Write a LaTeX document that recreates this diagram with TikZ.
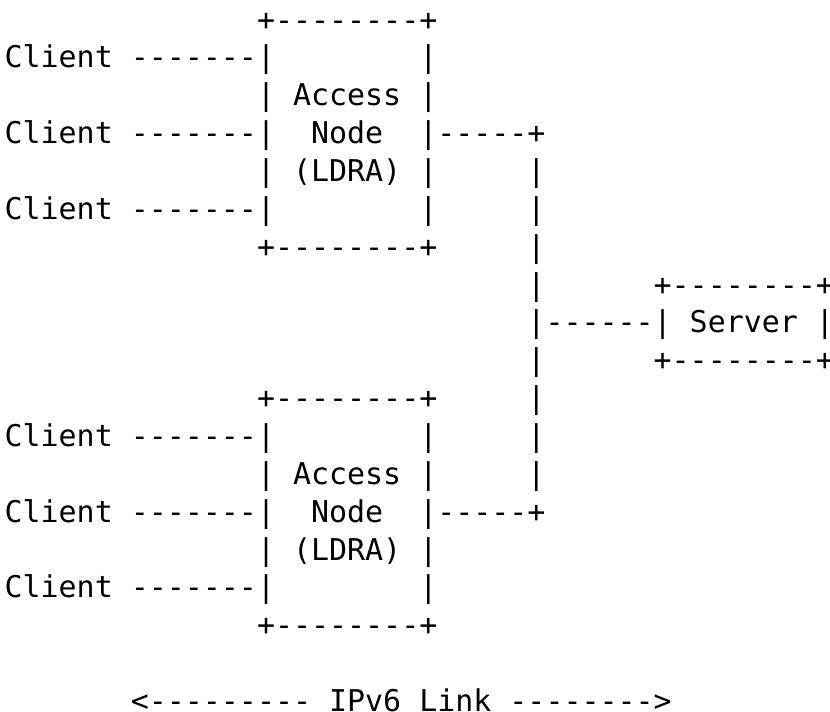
\documentclass[tikz,border=0pt]{standalone}
\usepackage{fontspec}
\setmonofont{DejaVu Sans Mono}
\tikzset{
  txt/.style={anchor=base west, inner sep=0pt, outer sep=0pt,
    font=\ttfamily\fontsize{29.95bp}{36bp}\selectfont, text=black},
  cell/.style n args={2}{at={({4.6+18.03*(#2)},{-30.15-37.85*(#1)})}}
}
\begin{document}
\begin{tikzpicture}[x=1bp,y=1bp]
\clip (0,0) rectangle (830,-712);
\fill[white] (0,0) rectangle (830,-712);
% upper access node
\node[txt, cell={0}{14}] (r0a) {+--------+};
\node[txt, cell={1}{0}] (r1a) {Client};
\node[txt, cell={1}{7}] (r1b) {-------|};
\node[txt, cell={1}{23}] (r1c) {|};
\node[txt, cell={2}{14}] (r2a) {|};
\node[txt, cell={2}{16}] (r2b) {Access};
\node[txt, cell={2}{23}] (r2c) {|};
\node[txt, cell={3}{0}] (r3a) {Client};
\node[txt, cell={3}{7}] (r3b) {-------|};
\node[txt, cell={3}{17}] (r3c) {Node};
\node[txt, cell={3}{23}] (r3d) {|-----+};
\node[txt, cell={4}{14}] (r4a) {|};
\node[txt, cell={4}{16}] (r4b) {(LDRA)};
\node[txt, cell={4}{23}] (r4c) {|};
\node[txt, cell={4}{29}] (r4d) {|};
\node[txt, cell={5}{0}] (r5a) {Client};
\node[txt, cell={5}{7}] (r5b) {-------|};
\node[txt, cell={5}{23}] (r5c) {|};
\node[txt, cell={5}{29}] (r5d) {|};
\node[txt, cell={6}{14}] (r6a) {+--------+};
\node[txt, cell={6}{29}] (r6b) {|};
% server
\node[txt, cell={7}{29}] (r7a) {|};
\node[txt, cell={7}{36}] (r7b) {+--------+};
\node[txt, cell={8}{29}] (r8a) {|------|};
\node[txt, cell={8}{38}] (r8b) {Server};
\node[txt, cell={8}{45}] (r8c) {|};
\node[txt, cell={9}{29}] (r9a) {|};
\node[txt, cell={9}{36}] (r9b) {+--------+};
% lower access node
\node[txt, cell={10}{14}] (r10a) {+--------+};
\node[txt, cell={10}{29}] (r10b) {|};
\node[txt, cell={11}{0}] (r11a) {Client};
\node[txt, cell={11}{7}] (r11b) {-------|};
\node[txt, cell={11}{23}] (r11c) {|};
\node[txt, cell={11}{29}] (r11d) {|};
\node[txt, cell={12}{14}] (r12a) {|};
\node[txt, cell={12}{16}] (r12b) {Access};
\node[txt, cell={12}{23}] (r12c) {|};
\node[txt, cell={12}{29}] (r12d) {|};
\node[txt, cell={13}{0}] (r13a) {Client};
\node[txt, cell={13}{7}] (r13b) {-------|};
\node[txt, cell={13}{17}] (r13c) {Node};
\node[txt, cell={13}{23}] (r13d) {|-----+};
\node[txt, cell={14}{14}] (r14a) {|};
\node[txt, cell={14}{16}] (r14b) {(LDRA)};
\node[txt, cell={14}{23}] (r14c) {|};
\node[txt, cell={15}{0}] (r15a) {Client};
\node[txt, cell={15}{7}] (r15b) {-------|};
\node[txt, cell={15}{23}] (r15c) {|};
\node[txt, cell={16}{14}] (r16a) {+--------+};
% link label
\node[txt, cell={18}{7}] (r18a) {<---------};
\node[txt, cell={18}{18}] (r18b) {IPv6};
\node[txt, cell={18}{23}] (r18c) {Link};
\node[txt, cell={18}{28}] (r18d) {-------->};
\end{tikzpicture}
\end{document}
